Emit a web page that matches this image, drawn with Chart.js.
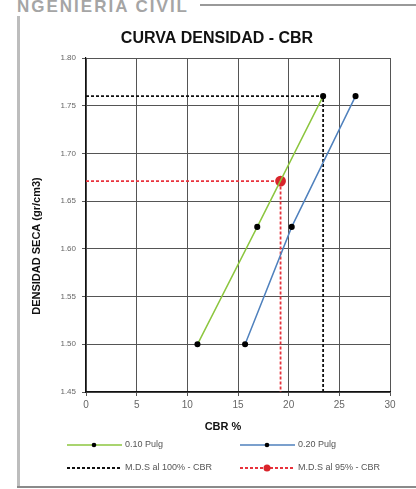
<!DOCTYPE html>
<html>
<head>
<meta charset="utf-8">
<script src="https://cdn.jsdelivr.net/npm/chart.js@4/dist/chart.umd.min.js"></script>
<style>
  body { margin: 0; background: #fff; }
  #wrap { position: relative; width: 416px; height: 489px; overflow: hidden; font-family: "Liberation Sans", Arial, sans-serif; }
  #head { position: absolute; left: 17px; top: -3px; font-size: 17px; font-weight: bold; color: #a5a5a5; letter-spacing: 2px; }
  #topLine { position: absolute; left: 200px; top: 4px; width: 216px; height: 2px; background: #999; }
  #leftLine { position: absolute; left: 17px; top: 16px; width: 3px; height: 472px; background: #bdbdbd; }
  #bottomLine { position: absolute; left: 17px; top: 486px; width: 399px; height: 2px; background: #8a8a8a; }
  canvas { position: absolute; left: 0; top: 0; }
</style>
</head>
<body>
<div id="wrap">
  <div id="head">NGENIERIA CIVIL</div>
  <div id="topLine"></div>
  <div id="leftLine"></div>
  <div id="bottomLine"></div>
  <canvas id="chart" width="416" height="489"></canvas>
</div>
<script>
// datos
const cbr010 = [11.0, 16.9, 23.4];
const dens010 = [1.500, 1.623, 1.760];
const cbr020 = [15.7, 20.3, 26.6];
const dens020 = [1.500, 1.623, 1.760];
const mds100X = [0, 23.4, 23.4];
const mds100Y = [1.760, 1.760, 1.45];
const mds95X = [0, 19.2, 19.2];
const mds95Y = [1.671, 1.671, 1.45];
const xTicks = [0, 5, 10, 15, 20, 25, 30];
const yTicks = [1.45, 1.50, 1.55, 1.60, 1.65, 1.70, 1.75, 1.80];
const legendLabels = ["0.10 Pulg", "0.20 Pulg", "M.D.S al 100% - CBR", "M.D.S al 95% - CBR"];

function toPoints(xs, ys) {
  return xs.map((x, i) => ({ x: x, y: ys[i] }));
}

const datasets = [
  {
    label: legendLabels[0],
    data: toPoints(cbr010, dens010),
    borderColor: "#8cc63f",
    borderWidth: 1.5,
    pointBackgroundColor: "#000",
    pointBorderColor: "#000",
    pointRadius: 2.3,
    showLine: true
  },
  {
    label: legendLabels[1],
    data: toPoints(cbr020, dens020),
    borderColor: "#4f81bd",
    borderWidth: 1.5,
    pointBackgroundColor: "#000",
    pointBorderColor: "#000",
    pointRadius: 2.3,
    showLine: true
  },
  {
    label: legendLabels[2],
    data: toPoints(mds100X, mds100Y),
    borderColor: "#111",
    borderWidth: 1.8,
    borderDash: [3, 2],
    pointRadius: 0,
    showLine: true
  },
  {
    label: legendLabels[3],
    data: toPoints(mds95X, mds95Y),
    borderColor: "#e8323c",
    borderWidth: 1.8,
    borderDash: [3, 2],
    pointRadius: [0, 4.5, 0],
    pointBackgroundColor: "#d9252b",
    pointBorderColor: "#d9252b",
    showLine: true
  }
];

// titulos y leyenda dibujados en posiciones fijas
const extras = {
  id: "extras",
  afterDraw(chart) {
    const c = chart.ctx;
    c.save();
    c.fillStyle = "#111";
    c.textAlign = "center";
    c.textBaseline = "middle";
    c.font = "bold 16px 'Liberation Sans', Arial";
    c.fillText("CURVA DENSIDAD - CBR", 217, 39);
    c.font = "bold 11px 'Liberation Sans', Arial";
    c.fillText("CBR %", 223, 427);
    c.save();
    c.translate(37, 246);
    c.rotate(-Math.PI / 2);
    c.fillText("DENSIDAD SECA (gr/cm3)", 0, 0);
    c.restore();

    const slots = [[67, 445], [240, 445], [67, 468], [240, 468]];
    chart.data.datasets.forEach((ds, i) => {
      const x = slots[i][0], y = slots[i][1];
      c.beginPath();
      c.strokeStyle = ds.borderColor;
      c.lineWidth = ds.borderWidth;
      c.setLineDash(ds.borderDash || []);
      c.moveTo(x, y);
      c.lineTo(x + 55, y);
      c.stroke();
      c.setLineDash([]);
      if (i !== 2) {
        c.beginPath();
        c.fillStyle = i === 3 ? "#d9252b" : "#000";
        c.arc(x + 27, y, i === 3 ? 3.5 : 2.3, 0, Math.PI * 2);
        c.fill();
      }
      c.fillStyle = "#555";
      c.textAlign = "left";
      c.font = "9px 'Liberation Sans', Arial";
      c.fillText(ds.label, x + 58, y);
    });
    c.restore();
  }
};

new Chart(document.getElementById("chart"), {
  type: "scatter",
  data: { datasets: datasets },
  options: {
    responsive: false,
    animation: false,
    layout: { padding: { left: 0, right: 26, top: 58, bottom: 0 } },
    plugins: { legend: { display: false }, tooltip: { enabled: false } },
    scales: {
      x: {
        type: "linear",
        min: 0,
        max: 30,
        afterBuildTicks: s => { s.ticks = xTicks.map(v => ({ value: v })); },
        afterFit: s => { s.height = 97; },
        grid: { color: "#555", lineWidth: 1, tickLength: 4 },
        border: { color: "#111", width: 1.2 },
        ticks: { color: "#666", font: { size: 10, family: "'Liberation Sans', Arial" }, padding: 3, callback: v => v }
      },
      y: {
        type: "linear",
        min: 1.45,
        max: 1.80,
        afterBuildTicks: s => { s.ticks = yTicks.map(v => ({ value: v })); },
        afterFit: s => { s.width = 86; },
        grid: { color: "#555", lineWidth: 1, tickLength: 4 },
        border: { color: "#111", width: 1.2 },
        ticks: { color: "#666", font: { size: 8, family: "'Liberation Sans', Arial" }, padding: 6, callback: v => v.toFixed(2) }
      }
    }
  },
  plugins: [extras]
});
</script>
</body>
</html>
